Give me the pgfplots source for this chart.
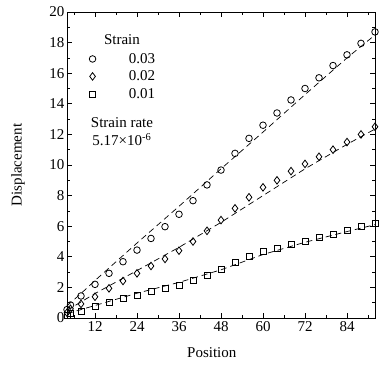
\documentclass[border=0pt]{standalone}
\usepackage{pgfplots}
\pgfplotsset{compat=1.18}
\usepackage{fontspec}
\setmainfont{Liberation Serif}
\begin{document}
\begin{tikzpicture}[font=\fontsize{15}{17}\selectfont]
\begin{axis}[
  scale only axis, width=308pt, height=306pt,
  xmin=4, xmax=92, ymin=0, ymax=20,
  xtick={12,24,...,84}, minor xtick={6,18,...,90},
  ytick={0,2,...,20}, minor ytick={1,3,...,19},
  tick align=inside, major tick length=5pt, minor tick length=3pt,
  tick style={black, line width=0.8pt},
  axis line style={line width=0.8pt},
  /pgf/number format/assume math mode=true,
  tick label style={font=\fontsize{15}{17}\selectfont},
  yticklabel style={xshift=1pt},
  xlabel={Position}, ylabel={Displacement},
  xlabel style={at={(axis description cs:0.47,-0.114)}, anchor=center},
  ylabel style={at={(axis description cs:-0.159,0.5)}, anchor=center},
  clip=false,
  legend style={draw=none, fill=none, inner sep=0pt, row sep=2pt,
    at={(axis cs:10.3,17.45)}, anchor=north west, font=\fontsize{15}{17}\selectfont},
  /tikz/every odd column/.append style={column sep=31pt},
  legend cell align=left,
]
% fitted dashed lines
\addplot[forget plot, black, line width=0.7pt, dash pattern=on 6pt off 4pt] coordinates {
(4,0.8) (8,1.6) (12,2.45) (24,4.9) (36,7.3) (48,9.75) (60,12.15) (72,14.6) (84,17.0) (92,18.5)};
\addplot[forget plot, black, line width=0.7pt, dash pattern=on 6pt off 4pt] coordinates {
(4,0.5) (12,1.6) (24,3.1) (36,4.62) (48,6.25) (60,8.0) (72,9.75) (84,11.35) (92,12.35)};
\addplot[forget plot, black, line width=0.7pt, dash pattern=on 6pt off 4pt] coordinates {
(4,0.28) (12,0.82) (24,1.62) (36,2.33) (48,3.15) (60,4.15) (72,4.95) (84,5.65) (92,6.1)};
% data
\addplot[only marks, mark=o, mark size=3.3pt, line width=0.8pt, black] coordinates {
(4,0.55) (5,0.85) (8,1.44) (12,2.2) (16,2.92) (20,3.68) (24,4.44) (28,5.2) (32,5.97) (36,6.78)
(40,7.67) (44,8.7) (48,9.67) (52,10.76) (56,11.74) (60,12.6) (64,13.4) (68,14.25) (72,15.0)
(76,15.7) (80,16.5) (84,17.2) (88,17.95) (92,18.7)};
\addlegendentry{0.03}
\addplot[only marks, mark=diamond, mark size=3.8pt, line width=0.8pt, black] coordinates {
(4,0.35) (5,0.6) (8,0.92) (12,1.39) (16,1.94) (20,2.42) (24,2.92) (28,3.4) (32,3.86) (36,4.4)
(40,5.0) (44,5.7) (48,6.4) (52,7.17) (56,7.89) (60,8.54) (64,9.0) (68,9.6) (72,10.07)
(76,10.54) (80,11.0) (84,11.5) (88,12.0) (92,12.5)};
\addlegendentry{0.02}
\addplot[only marks, mark=square, mark size=3pt, line width=0.8pt, black] coordinates {
(4,0.15) (5,0.3) (8,0.46) (12,0.74) (16,1.0) (20,1.28) (24,1.5) (28,1.72) (32,1.94) (36,2.16)
(40,2.44) (44,2.77) (48,3.18) (52,3.64) (56,4.0) (60,4.33) (64,4.57) (68,4.81) (72,5.03)
(76,5.27) (80,5.49) (84,5.75) (88,5.97) (92,6.19)};
\addlegendentry{0.01}
\node[anchor=center] at (axis cs:19.7,18.17) {Strain};
\node[anchor=center] at (axis cs:19.7,12.75) {Strain rate};
\node[anchor=center] at (axis cs:19.7,11.65) {5.17×10\textsuperscript{-6}};
\end{axis}
\path (current axis.south west) ++(-67pt,-47pt) coordinate (bbsw);
\path (current axis.north east) ++(7pt,12pt) coordinate (bbne);
\path (bbsw) (bbne);
\end{tikzpicture}
\end{document}
